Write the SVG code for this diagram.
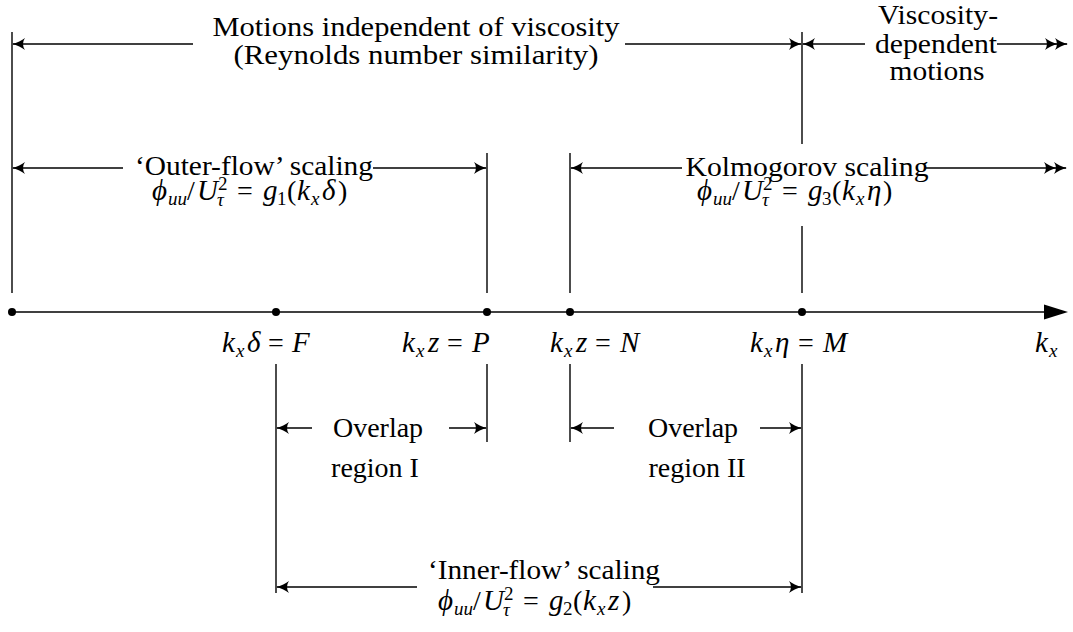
<svg xmlns="http://www.w3.org/2000/svg" width="1073" height="632" viewBox="0 0 1073 632">
<style>
text{font-family:"Liberation Serif","DejaVu Serif",serif;font-size:28px;fill:#000}
.i{font-style:italic}
.m{font-size:29px;font-style:italic}
.s{font-size:19px}
.si{font-size:19px;font-style:italic}
.v{stroke:#000;stroke-width:1.4;fill:none}
.h{stroke:#000;stroke-width:1.5;fill:none}
.ax{stroke:#000;stroke-width:1.7;fill:none}
</style>
<defs>
<marker id="ah" viewBox="-14 -7 16 14" refX="0" refY="0" markerWidth="16" markerHeight="14" markerUnits="userSpaceOnUse" orient="auto">
<path d="M1,0 C-4,-1 -9,-3.5 -12,-6 C-9.5,-2.5 -9.5,2.5 -12,6 C-9,3.5 -4,1 1,0 Z" fill="#000"/>
</marker>
<marker id="dah" viewBox="-24 -7 26 14" refX="0" refY="0" markerWidth="26" markerHeight="14" markerUnits="userSpaceOnUse" orient="auto">
<path d="M1,0 C-4,-1 -9,-3.5 -12,-6 C-9.5,-2.5 -9.5,2.5 -12,6 C-9,3.5 -4,1 1,0 Z" fill="#000"/>
<path d="M-9,0 C-14,-1 -19,-3.5 -22,-6 C-19.5,-2.5 -19.5,2.5 -22,6 C-19,3.5 -14,1 -9,0 Z" fill="#000"/>
</marker>
</defs>

<g id="axis">
<line class="ax" x1="12" y1="312" x2="1050" y2="312"/>
<path d="M1068,312 L1044,304.5 L1044,319.5 Z" fill="#000"/>
<text y="352"><tspan class="m" x="1035">k</tspan><tspan class="si" x="1049" y="357">x</tspan></text>
</g>

<g id="node-origin">
<circle cx="12" cy="312" r="4"/>
</g>
<g id="node-F">
<circle cx="276" cy="312" r="4"/>
<text y="352"><tspan class="m" x="222">k</tspan><tspan class="si" x="236" y="357">x</tspan><tspan class="m" x="247" y="352">δ</tspan><tspan x="268">=</tspan><tspan class="m" x="292">F</tspan></text>
</g>
<g id="node-P">
<circle cx="487" cy="312" r="4"/>
<text y="352"><tspan class="m" x="402">k</tspan><tspan class="si" x="416" y="357">x</tspan><tspan class="m" x="428" y="352">z</tspan><tspan x="447">=</tspan><tspan class="m" x="472">P</tspan></text>
</g>
<g id="node-N">
<circle cx="570" cy="312" r="4"/>
<text y="352"><tspan class="m" x="550">k</tspan><tspan class="si" x="564" y="357">x</tspan><tspan class="m" x="576" y="352">z</tspan><tspan x="595">=</tspan><tspan class="m" x="620">N</tspan></text>
</g>
<g id="node-M">
<circle cx="802" cy="312" r="4"/>
<text y="352"><tspan class="m" x="750">k</tspan><tspan class="si" x="764" y="357">x</tspan><tspan class="m" x="775" y="352">η</tspan><tspan x="798">=</tspan><tspan class="m" x="823">M</tspan></text>
</g>

<g id="label-motions">
<text x="416" y="36" text-anchor="middle" textLength="407" lengthAdjust="spacingAndGlyphs">Motions independent of viscosity</text>
<text x="416" y="64" text-anchor="middle" textLength="365" lengthAdjust="spacingAndGlyphs">(Reynolds number similarity)</text>
</g>
<g id="label-viscous">
<text x="938" y="24" text-anchor="middle" textLength="120" lengthAdjust="spacingAndGlyphs">Viscosity-</text>
<text x="936" y="53" text-anchor="middle" textLength="122" lengthAdjust="spacingAndGlyphs">dependent</text>
<text x="937" y="80" text-anchor="middle" textLength="95" lengthAdjust="spacingAndGlyphs">motions</text>
</g>
<g id="label-outer">
<text x="254" y="175" text-anchor="middle" textLength="238" lengthAdjust="spacingAndGlyphs">‘Outer-flow’ scaling</text>
<text y="200"><tspan class="m" x="152">ϕ</tspan><tspan class="si" x="168" y="205">uu</tspan><tspan x="187" y="200">/</tspan><tspan class="m" x="197">U</tspan><tspan class="s" x="218" y="190">2</tspan><tspan class="si" x="217" y="206">τ</tspan><tspan x="237" y="200">=</tspan><tspan class="m" x="263">g</tspan><tspan class="s" x="277" y="205">1</tspan><tspan x="287" y="200">(</tspan><tspan class="m" x="297">k</tspan><tspan class="si" x="311" y="205">x</tspan><tspan class="m" x="322" y="200">δ</tspan><tspan x="338">)</tspan></text>
</g>
<g id="label-kolmogorov">
<text x="807" y="176" text-anchor="middle" textLength="243" lengthAdjust="spacingAndGlyphs">Kolmogorov scaling</text>
<text y="200"><tspan class="m" x="697">ϕ</tspan><tspan class="si" x="713" y="205">uu</tspan><tspan x="732" y="200">/</tspan><tspan class="m" x="742">U</tspan><tspan class="s" x="763" y="190">2</tspan><tspan class="si" x="762" y="206">τ</tspan><tspan x="782" y="200">=</tspan><tspan class="m" x="808">g</tspan><tspan class="s" x="822" y="205">3</tspan><tspan x="832" y="200">(</tspan><tspan class="m" x="842">k</tspan><tspan class="si" x="856" y="205">x</tspan><tspan class="m" x="867" y="200">η</tspan><tspan x="883">)</tspan></text>
</g>
<g id="label-overlap1">
<text x="378" y="437" text-anchor="middle">Overlap</text>
<text x="375" y="477" text-anchor="middle">region I</text>
</g>
<g id="label-overlap2">
<text x="693" y="437" text-anchor="middle">Overlap</text>
<text x="697" y="477" text-anchor="middle">region II</text>
</g>
<g id="label-inner">
<text x="544" y="579" text-anchor="middle" textLength="232" lengthAdjust="spacingAndGlyphs">‘Inner-flow’ scaling</text>
<text y="610"><tspan class="m" x="438">ϕ</tspan><tspan class="si" x="454" y="615">uu</tspan><tspan x="473" y="610">/</tspan><tspan class="m" x="483">U</tspan><tspan class="s" x="504" y="600">2</tspan><tspan class="si" x="503" y="616">τ</tspan><tspan x="523" y="610">=</tspan><tspan class="m" x="549">g</tspan><tspan class="s" x="563" y="615">2</tspan><tspan x="573" y="610">(</tspan><tspan class="m" x="583">k</tspan><tspan class="si" x="597" y="615">x</tspan><tspan class="m" x="608" y="610">z</tspan><tspan x="622">)</tspan></text>
</g>

<g id="connectors">
<line class="v" x1="12" y1="32" x2="12" y2="293"/>
<line class="v" x1="487" y1="153" x2="487" y2="293"/>
<line class="v" x1="487" y1="364" x2="487" y2="442"/>
<line class="v" x1="570" y1="153" x2="570" y2="293"/>
<line class="v" x1="570" y1="364" x2="570" y2="442"/>
<line class="v" x1="802" y1="32" x2="802" y2="144"/>
<line class="v" x1="802" y1="226" x2="802" y2="293"/>
<line class="v" x1="802" y1="364" x2="802" y2="593"/>
<line class="v" x1="276" y1="364" x2="276" y2="593"/>

<line class="h" x1="193" y1="44" x2="13" y2="44" marker-end="url(#ah)"/>
<line class="h" x1="625" y1="44" x2="801" y2="44" marker-end="url(#ah)"/>
<line class="h" x1="865" y1="44" x2="803" y2="44" marker-end="url(#ah)"/>
<line class="h" x1="997" y1="44" x2="1067" y2="44" marker-end="url(#dah)"/>

<line class="h" x1="123" y1="168" x2="13" y2="168" marker-end="url(#ah)"/>
<line class="h" x1="373" y1="168" x2="486" y2="168" marker-end="url(#ah)"/>
<line class="h" x1="682" y1="168" x2="571" y2="168" marker-end="url(#ah)"/>
<line class="h" x1="926" y1="168" x2="1066" y2="168" marker-end="url(#dah)"/>

<line class="h" x1="312" y1="428" x2="277" y2="428" marker-end="url(#ah)"/>
<line class="h" x1="449" y1="428" x2="486" y2="428" marker-end="url(#ah)"/>
<line class="h" x1="614" y1="428" x2="571" y2="428" marker-end="url(#ah)"/>
<line class="h" x1="760" y1="428" x2="801" y2="428" marker-end="url(#ah)"/>

<line class="h" x1="417" y1="587" x2="277" y2="587" marker-end="url(#ah)"/>
<line class="h" x1="653" y1="587" x2="801" y2="587" marker-end="url(#ah)"/>
</g>
</svg>
